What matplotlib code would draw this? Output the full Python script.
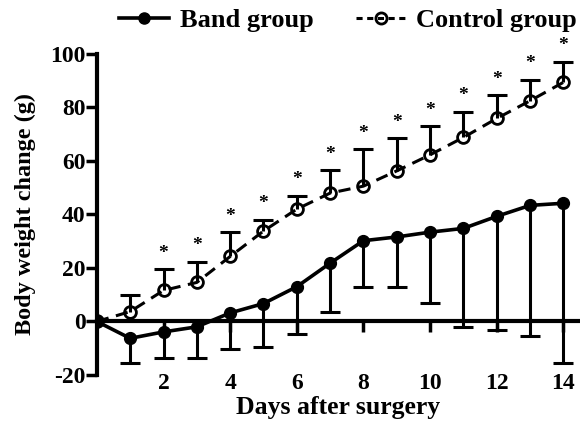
import numpy as np
import matplotlib
matplotlib.use('Agg')
import matplotlib.pyplot as plt
from matplotlib.lines import Line2D

plt.rcParams['font.family'] = 'Liberation Serif'
plt.rcParams['font.weight'] = 'bold'
plt.rcParams['axes.unicode_minus'] = False

days = np.arange(0, 15)
band_mean = np.array([0, -6.3, -3.9, -2.0, 3.2, 6.7, 13.0, 21.8, 30.2, 31.6, 33.4, 34.8, 39.3, 43.4, 44.2])
band_sd = np.array([0, 9.3, 9.9, 11.8, 13.5, 16.4, 17.8, 18.2, 17.4, 18.8, 26.5, 36.7, 42.4, 48.8, 59.6])
ctrl_mean = np.array([0, 3.7, 11.6, 14.6, 24.3, 33.8, 42.0, 48.0, 50.6, 56.3, 62.3, 68.8, 75.9, 82.5, 89.4])
ctrl_sd = np.array([0, 6.3, 8.0, 7.8, 9.0, 4.2, 5.0, 8.6, 13.8, 12.2, 10.7, 9.6, 8.6, 7.9, 7.7])
signif_days = np.arange(2, 15)

fig = plt.figure(figsize=(5.8, 4.32), dpi=100)
ax = fig.add_axes([0.167, 0.132, 0.833, 0.743])

lw = 2.2
# control group: upward error bars only
ctrl_top = ctrl_mean + ctrl_sd
eb = days > 0
ax.vlines(days[eb], ctrl_mean[eb], ctrl_top[eb], color='k', lw=lw, zorder=2)
ax.plot(days[eb], ctrl_top[eb], ls='none', marker='_', ms=14, mew=lw, color='k', zorder=2)
ax.plot(days, ctrl_mean, ls=(0, (4, 2.5)), lw=lw, color='k', marker='o', ms=8.5,
        mfc='none', mec='k', mew=2, zorder=3)

# band group: downward error bars only
band_low = band_mean - band_sd
ax.vlines(days[eb], band_low[eb], band_mean[eb], color='k', lw=lw, zorder=2)
ax.plot(days[eb], band_low[eb], ls='none', marker='_', ms=14, mew=lw, color='k', zorder=2)
ax.plot(days, band_mean, ls='-', lw=lw + 0.4, color='k', marker='o', ms=8.5,
        mfc='k', mec='k', zorder=4)

for d in signif_days:
    ax.text(d, ctrl_top[d] + 6, '*', ha='center', va='center', fontsize=14)

ax.set_xlim(0, 14.5)
ax.set_ylim(-20, 100)
ax.spines['top'].set_visible(False)
ax.spines['right'].set_visible(False)
ax.spines['bottom'].set_position(('data', 0))
ax.spines['bottom'].set_linewidth(3)
ax.spines['left'].set_linewidth(3)
ax.set_xticks(np.arange(2, 15, 2))
ax.set_yticks(np.arange(-20, 101, 20))
ax.tick_params(axis='both', width=2.5, length=8, labelsize=17)
ax.tick_params(axis='x', pad=29)
ax.tick_params(axis='y', pad=0)

ax.set_xlabel('Days after surgery', fontsize=18.5, fontweight='bold')
ax.xaxis.set_label_coords(0.5, -0.065)
ax.set_ylabel('Body weight change (g)', fontsize=17.5, fontweight='bold')
ax.yaxis.set_label_coords(-0.125, 0.5)

handles = [
    Line2D([], [], color='k', lw=lw + 0.4, marker='o', ms=8, mfc='k'),
    Line2D([], [], color='k', lw=lw, ls=(0, (2, 1.5)), marker='o', ms=8, mfc='none', mew=2),
]
fig.legend(handles, ['Band group', 'Control group'], loc='center', ncol=2,
           bbox_to_anchor=(0.6, 0.952), frameon=False, fontsize=19,
           handlelength=1.9, columnspacing=1.6, handletextpad=0.4)

fig.savefig('out.png', dpi=100)
